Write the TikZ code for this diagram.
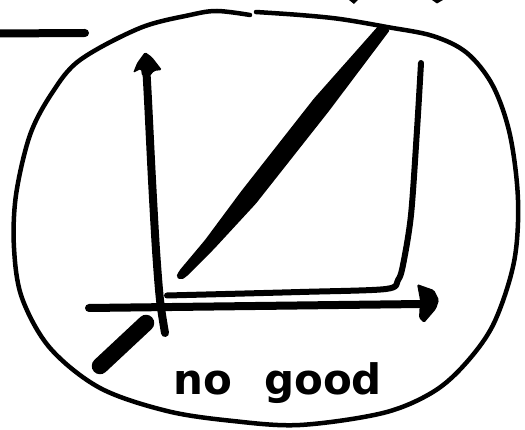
\documentclass[tikz,border=0pt]{standalone}
\usepackage{fontspec}
\newfontfamily\handfont[WordSpace=2.2]{DejaVu Sans}
\begin{document}
\begin{tikzpicture}[x=1pt,y=-1pt,
  ink/.style={line cap=round,line join=round},
  blob/.style={ink,line width=4.5pt},
  axisline/.style={ink,line width=8pt},
  curveline/.style={ink,line width=6pt},
  heavy/.style={ink,line width=16.5pt},
  bar/.style={line width=8pt,line cap=round},
  tip/.style={fill=black,rounded corners=1.5pt},
  hand/.style={font=\handfont\bfseries\fontsize{42}{42}\selectfont,inner sep=0pt,anchor=base west}]
\useasboundingbox (0,0) rectangle (525,430);
\fill[white] (0,0) rectangle (525,430);
% outline blob
\draw[blob] plot[smooth,tension=0.55] coordinates {(256,12) (300,15) (340,19) (387,27) (433,36) (467,53) (493,86) (510,135) (518,200) (514,262) (494,323) (466,363) (433,392) (383,413) (300,425) (233,421) (167,411) (100,388) (50,348) (22,298) (14,248) (16,195) (30,135) (52,93) (80,60) (140,28) (190,15) (217,11) (250,15)};
% top-left bar
\draw[bar] (-6,33.5) -- (85,33);
% cut-off marks at top
\fill (349,0) -- (358,0) -- (354,4) -- cycle;
\fill (432,0) -- (443,0) -- (437,3.5) -- cycle;
% vertical axis
\draw[axisline] plot[smooth] coordinates {(165,333) (160,300) (156,250) (152,180) (148,100) (146,64)};
\fill[tip] (145,52) -- (152,57) -- (162,70) -- (154,71) -- (150,76) -- (142,76) -- (141,69) -- (133,73) -- (137,63) -- cycle;
% horizontal axis
\draw[axisline] (89,308) -- (422,304);
\fill[tip] (417,284) -- (434,290) -- (439,300) -- (436,309) -- (424,323) -- (419,318) -- (420,300) -- cycle;
% L-shaped curve
\draw[curveline] plot[smooth,tension=0.5] coordinates {(421,63) (417,130) (411,215) (403,265) (398,280) (386,289) (300,292) (167,295.5)};
% thick diagonal
\fill[rounded corners=2pt] (380,24) -- (390,30) -- (329,111) -- (256,203.5) -- (214,249) -- (186,277) -- (181,280) -- (176,277) -- (179,271) -- (205,240) -- (241,191.5) -- (314,98.5) -- cycle;
% lower thick segment
\draw[heavy] (146,323) -- (100,366);
% label
\node[hand] (label) at (173,395) {no good};
\end{tikzpicture}
\end{document}
